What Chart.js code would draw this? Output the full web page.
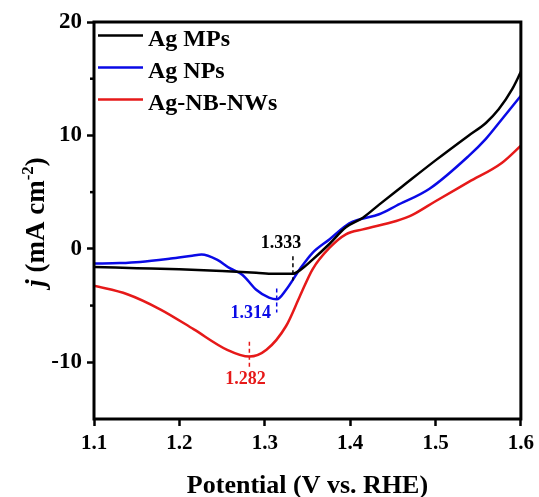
<!DOCTYPE html>
<html>
<head>
<meta charset="utf-8">
<script src="https://cdn.jsdelivr.net/npm/chart.js@4.4.0/dist/chart.umd.min.js"></script>
<style>
  html, body { margin: 0; padding: 0; background: #fff; }
  #wrap { width: 539px; height: 497px; }
</style>
</head>
<body>
<div id="wrap"><canvas id="lsv"></canvas></div>
<script>
// ---- data ----
const seriesNames = ["Ag MPs", "Ag NPs", "Ag-NB-NWs"];

const mpsV = [1.1, 1.15, 1.2, 1.25, 1.29, 1.31, 1.333, 1.341, 1.356, 1.376, 1.395, 1.415, 1.434, 1.461, 1.5, 1.539, 1.559, 1.574, 1.59, 1.6];
const mpsJ = [-1.6, -1.7, -1.8, -1.95, -2.1, -2.2, -2.2, -1.9, -0.95, 0.45, 1.9, 2.75, 3.9, 5.5, 7.8, 10.0, 11.1, 12.3, 14.1, 15.6];

const npsV = [1.1, 1.13, 1.154, 1.19, 1.215, 1.226, 1.244, 1.259, 1.274, 1.29, 1.305, 1.314, 1.325, 1.341, 1.356, 1.376, 1.399, 1.411, 1.434, 1.454, 1.493, 1.539, 1.559, 1.578, 1.6];
const npsJ = [-1.3, -1.25, -1.15, -0.85, -0.6, -0.5, -0.95, -1.7, -2.3, -3.6, -4.3, -4.45, -3.6, -1.8, -0.35, 0.85, 2.25, 2.6, 3.05, 3.8, 5.3, 8.2, 9.7, 11.45, 13.5];

const nwsV = [1.1, 1.139, 1.178, 1.217, 1.256, 1.282, 1.302, 1.325, 1.341, 1.356, 1.376, 1.395, 1.415, 1.454, 1.473, 1.5, 1.539, 1.578, 1.6];
const nwsJ = [-3.25, -4.0, -5.35, -7.1, -8.9, -9.5, -8.9, -6.8, -4.2, -1.8, 0.1, 1.28, 1.72, 2.46, 3.0, 4.2, 5.9, 7.6, 9.1];

// peak markers (potential, dashed line from j top to j bottom)
const peakV = [1.333, 1.314, 1.282];
const peakTop = [-0.66, -3.5, -8.2];
const peakBottom = [-2.8, -5.6, -10.4];
const peakLabels = ["1.333", "1.314", "1.282"];

const yMinorTicks = [-5, 5, 15];

const colors = ["#000000", "#0a0ae6", "#e61919"];

function toPoints(xs, ys) {
    return xs.map((x, i) => ({ x: x, y: ys[i] }));
}

const serif = "'Liberation Serif', 'Times New Roman', serif";

// ---- frame, minor ticks, titles, legend and peak notes ----
const decorPlugin = {
    id: "decor",
    afterDatasetsDraw(chart) {
        const ctx = chart.ctx;
        const xs = chart.scales.x, ys = chart.scales.y;
        // label offsets in px relative to the dashed line
        const labelPos = [
            { dx: -12, y: "top", dy: -13 },
            { dx: -26, y: "bottom", dy: 1 },
            { dx: -4, y: "bottom", dy: 13 }
        ];
        ctx.save();
        peakV.forEach((v, i) => {
            const px = xs.getPixelForValue(v);
            const y1 = ys.getPixelForValue(peakTop[i]);
            const y2 = ys.getPixelForValue(peakBottom[i]);
            ctx.strokeStyle = colors[i];
            ctx.lineWidth = 1.5;
            ctx.setLineDash([4, 3]);
            ctx.beginPath();
            ctx.moveTo(px, y1);
            ctx.lineTo(px, y2);
            ctx.stroke();
            ctx.setLineDash([]);
            ctx.fillStyle = colors[i];
            ctx.font = "bold 18px " + serif;
            ctx.textAlign = "center";
            ctx.textBaseline = "middle";
            const p = labelPos[i];
            const ly = (p.y === "top" ? y1 : y2) + p.dy;
            ctx.fillText(peakLabels[i], px + p.dx, ly);
        });
        ctx.restore();
    },
    afterDraw(chart) {
        const ctx = chart.ctx;
        const a = chart.chartArea;
        const ys = chart.scales.y;
        ctx.save();
        // frame
        ctx.strokeStyle = "#000";
        ctx.lineWidth = 3;
        ctx.strokeRect(a.left, a.top, a.right - a.left, a.bottom - a.top);
        // minor y ticks
        ctx.lineWidth = 2.5;
        yMinorTicks.forEach(v => {
            const py = ys.getPixelForValue(v);
            ctx.beginPath();
            ctx.moveTo(a.left, py);
            ctx.lineTo(a.left - 4, py);
            ctx.stroke();
        });
        // x title
        ctx.fillStyle = "#000";
        ctx.font = "bold 26px " + serif;
        ctx.textAlign = "center";
        ctx.textBaseline = "alphabetic";
        ctx.fillText("Potential (V vs. RHE)", (a.left + a.right) / 2, 493);
        // y title, rotated
        ctx.translate(44, 222);
        ctx.rotate(-Math.PI / 2);
        const parts = [
            { t: "j", f: "italic bold 27px " + serif, dy: 0 },
            { t: " (mA cm", f: "bold 27px " + serif, dy: 0 },
            { t: "-2", f: "bold 17px " + serif, dy: -11 },
            { t: ")", f: "bold 27px " + serif, dy: 0 }
        ];
        let total = 0;
        parts.forEach(p => { ctx.font = p.f; p.w = ctx.measureText(p.t).width; total += p.w; });
        let cx = -total / 2;
        ctx.textAlign = "left";
        parts.forEach(p => {
            ctx.font = p.f;
            ctx.fillText(p.t, cx, p.dy);
            cx += p.w;
        });
        ctx.restore();

        // legend
        ctx.save();
        ctx.font = "bold 24px " + serif;
        ctx.textAlign = "left";
        ctx.textBaseline = "alphabetic";
        chart.data.datasets.forEach((ds, i) => {
            const ly = 35.5 + i * 32;
            ctx.strokeStyle = ds.borderColor;
            ctx.lineWidth = 2.5;
            ctx.beginPath();
            ctx.moveTo(a.left + 4, ly);
            ctx.lineTo(a.left + 49, ly);
            ctx.stroke();
            ctx.fillStyle = "#000";
            ctx.fillText(ds.label, a.left + 54, ly + 10);
        });
        ctx.restore();
    }
};

const ctx = document.getElementById("lsv").getContext("2d");

new Chart(ctx, {
    type: "line",
    data: {
        datasets: [
            { label: seriesNames[0], data: toPoints(mpsV, mpsJ), borderColor: colors[0] },
            { label: seriesNames[1], data: toPoints(npsV, npsJ), borderColor: colors[1] },
            { label: seriesNames[2], data: toPoints(nwsV, nwsJ), borderColor: colors[2] }
        ]
    },
    options: {
        responsive: true,
        maintainAspectRatio: false,
        animation: false,
        parsing: false,
        elements: {
            line: { borderWidth: 2.5, tension: 0.35, cubicInterpolationMode: "monotone", fill: false },
            point: { radius: 0 }
        },
        layout: { padding: { left: 0, top: 22, right: 17, bottom: 0 } },
        plugins: {
            legend: { display: false },
            tooltip: { enabled: false }
        },
        scales: {
            x: {
                type: "linear",
                min: 1.1,
                max: 1.6,
                border: { display: false },
                grid: { drawOnChartArea: false, drawTicks: true, tickLength: 7, tickWidth: 2.5, tickColor: "#000" },
                ticks: {
                    stepSize: 0.1,
                    padding: 5,
                    color: "#000",
                    font: { family: serif, size: 21, weight: "bold" },
                    callback: v => v.toFixed(1)
                },
                afterFit: s => { s.height = 78; }
            },
            y: {
                type: "linear",
                min: -15,
                max: 20,
                border: { display: false },
                grid: { drawOnChartArea: false, drawTicks: true, tickLength: 7, tickWidth: 2.5, tickColor: "#000" },
                ticks: {
                    stepSize: 10,
                    includeBounds: false,
                    padding: 5,
                    color: "#000",
                    font: { family: serif, size: 23, weight: "bold" }
                },
                afterFit: s => { s.width = 94; }
            }
        }
    },
    plugins: [decorPlugin]
});
</script>
</body>
</html>
